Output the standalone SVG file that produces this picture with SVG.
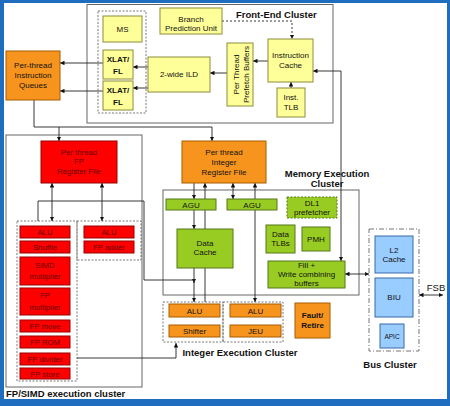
<svg xmlns="http://www.w3.org/2000/svg" width="450" height="406" viewBox="0 0 450 406">
<defs>
<marker id="ah" viewBox="0 0 10 10" refX="10" refY="5" markerWidth="5" markerHeight="5" orient="auto-start-reverse"><path d="M0,0 L10,5 L0,10 z" fill="#111"/></marker>
<style>
text{font-family:"Liberation Sans",Arial,sans-serif;text-anchor:middle;fill:#111}
.yel{fill:#ffff99;stroke:#8c8c3c;stroke-width:1}
.org{fill:#f7941d;stroke:#a65c00;stroke-width:1}
.red{fill:#ff0000;stroke:#990000;stroke-width:1}
.grn{fill:#99cc22;stroke:#55771a;stroke-width:1}
.blu{fill:#99ccff;stroke:#3a6aa8;stroke-width:1}
.clu{fill:none;stroke:#666;stroke-width:1}
.dash{fill:none;stroke:#555;stroke-width:0.8;stroke-dasharray:2,1.5}
.t8{font-size:8px}
.t7{font-size:7.8px;fill:#6a0000}
.tb{font-weight:bold}
.title{font-size:9.5px;font-weight:bold}
.ln{fill:none;stroke:#222;stroke-width:0.9}
.arr{marker-end:url(#ah)}
.bi{marker-start:url(#ah);marker-end:url(#ah)}
</style>
</defs>
<rect x="0" y="0" width="450" height="406" fill="#1f6dbf"/>
<rect x="4" y="3" width="443" height="396" fill="#ffffff"/>

<g id="clusters">
<rect id="frontend-cluster" class="clu" x="87" y="4.5" width="246" height="118.5"/>
<rect id="fp-cluster" class="clu" x="6" y="135" width="136" height="252"/>
<rect id="mem-cluster" class="clu" x="163" y="190" width="196" height="105"/>
<rect class="dash" x="98" y="11" width="48" height="102"/>
<rect class="dash" x="17" y="221" width="60" height="160"/>
<rect class="dash" x="77" y="221" width="64" height="39"/>
<rect class="dash" x="163" y="302" width="60" height="40"/>
<rect class="dash" x="223" y="302" width="60" height="40"/>
<rect fill="none" stroke="#666" stroke-width="0.9" stroke-dasharray="5,2,1,2" x="369" y="229" width="50" height="122"/>
<text class="title" x="236" y="18" style="text-anchor:start">Front-End Cluster</text>
<text class="title" x="327" y="177">Memory Execution</text>
<text class="title" x="327" y="187">Cluster</text>
<text class="title" x="240" y="356">Integer Execution Cluster</text>
<text class="title" x="6" y="397" style="text-anchor:start">FP/SIMD execution cluster</text>
<text class="title" x="390" y="368">Bus Cluster</text>
<text x="436" y="291" style="font-size:9.5px">FSB</text>
</g>

<g id="connectors">
<line class="ln arr" x1="103" y1="63" x2="60" y2="63"/>
<line class="ln arr" x1="103" y1="91" x2="60" y2="91"/>
<line class="ln arr" x1="148" y1="67" x2="133" y2="67"/>
<line class="ln arr" x1="148" y1="88" x2="133" y2="88"/>
<line class="ln arr" x1="227" y1="73" x2="210" y2="73"/>
<line class="ln arr" x1="268" y1="61" x2="253" y2="61"/>
<line class="ln arr" x1="291" y1="88" x2="291" y2="82"/>
<path class="ln arr" d="M222,21 H292 V39" stroke-dasharray="2,2"/>
<path class="ln bi" d="M313,71 H341 V261"/>
<path class="ln arr" d="M34,100 V127 H212 V141"/>
<line class="ln arr" x1="59" y1="127" x2="59" y2="141"/>
<line class="ln bi" x1="52" y1="183" x2="52" y2="221"/>
<line class="ln bi" x1="102" y1="183" x2="102" y2="221"/>
<path class="ln arr" d="M38,221 V201 H144 V280 H194 V283"/>
<line class="ln arr" x1="194" y1="268" x2="194" y2="302"/>
<line class="ln arr" x1="194" y1="183" x2="194" y2="199"/>
<line class="ln arr" x1="194" y1="210" x2="194" y2="229"/>
<line class="ln arr" x1="205" y1="302" x2="205" y2="183"/>
<line class="ln bi" x1="233" y1="183" x2="233" y2="199"/>
<line class="ln bi" x1="255" y1="183" x2="255" y2="302"/>
<line class="ln bi" x1="345" y1="274" x2="369" y2="274"/>
<line class="ln bi" x1="419" y1="295" x2="443" y2="295"/>
<path class="ln arr" d="M77,358 H176 V343"/>
</g>

<g id="ms"><rect class="yel" x="103" y="16" width="39" height="26"/><text class="t8" x="122.5" y="32">MS</text></g>
<g id="xlat1"><rect class="yel" x="103" y="50" width="30" height="29"/><text class="t8 tb" x="118" y="62">XLAT/</text><text class="t8 tb" x="118" y="74">FL</text></g>
<g id="xlat2"><rect class="yel" x="103" y="81" width="30" height="29"/><text class="t8 tb" x="118" y="93">XLAT/</text><text class="t8 tb" x="118" y="105">FL</text></g>
<g id="queues"><rect class="org" x="6" y="51" width="54" height="49"/><text class="t8" x="33" y="68">Per-thread</text><text class="t8" x="33" y="78">Instruction</text><text class="t8" x="33" y="88">Queues</text></g>
<g id="ild"><rect class="yel" x="148" y="57" width="62" height="35"/><text class="t8" x="179" y="77">2-wide ILD</text></g>
<g id="prefetch"><rect class="yel" x="227" y="43" width="26" height="63"/><text class="t8" transform="translate(239,74.5) rotate(-90)">Per Thread</text><text class="t8" transform="translate(249,74.5) rotate(-90)">Prefetch Buffers</text></g>
<g id="icache"><rect class="yel" x="268" y="39" width="45" height="43"/><text class="t8" x="290.5" y="58">Instruction</text><text class="t8" x="290.5" y="68">Cache</text></g>
<g id="itlb"><rect class="yel" x="277" y="88" width="28" height="29"/><text class="t8" x="291" y="100">Inst.</text><text class="t8" x="291" y="110">TLB</text></g>
<g id="bpu"><rect class="yel" x="160" y="8" width="62" height="26"/><text class="t8" x="191" y="22">Branch</text><text class="t8" x="191" y="31">Prediction Unit</text></g>

<g id="fprf"><rect class="red" x="41" y="141" width="76" height="42"/><text class="t7" x="79" y="155">Per thread</text><text class="t7" x="79" y="164">FP</text><text class="t7" x="79" y="174">Register File</text></g>
<g id="fp-alu1"><rect class="red" x="20" y="226" width="50" height="12"/><text class="t7" x="45" y="235">ALU</text></g>
<g id="fp-shuffle"><rect class="red" x="20" y="241" width="50" height="12"/><text class="t7" x="45" y="250">Shuffle</text></g>
<g id="fp-simd"><rect class="red" x="20" y="257" width="50" height="28"/><text class="t7" x="45" y="268">SIMD</text><text class="t7" x="45" y="279">multiplier</text></g>
<g id="fp-mul"><rect class="red" x="20" y="288" width="50" height="27"/><text class="t7" x="45" y="298">FP</text><text class="t7" x="45" y="310">multiplier</text></g>
<g id="fp-move"><rect class="red" x="20" y="320" width="50" height="12"/><text class="t7" x="45" y="329">FP move</text></g>
<g id="fp-rom"><rect class="red" x="20" y="336" width="50" height="12"/><text class="t7" x="45" y="345">FP ROM</text></g>
<g id="fp-div"><rect class="red" x="20" y="353" width="50" height="12"/><text class="t7" x="45" y="362">FP divider</text></g>
<g id="fp-store"><rect class="red" x="20" y="368" width="50" height="11"/><text class="t7" x="45" y="376.5">FP store</text></g>
<g id="fp-alu2"><rect class="red" x="84" y="226" width="50" height="12"/><text class="t7" x="109" y="235">ALU</text></g>
<g id="fp-adder"><rect class="red" x="84" y="241" width="50" height="12"/><text class="t7" x="109" y="250">FP adder</text></g>

<g id="irf"><rect class="org" x="182" y="141" width="84" height="42"/><text class="t8" x="224" y="155">Per thread</text><text class="t8" x="224" y="165">Integer</text><text class="t8" x="224" y="175">Register File</text></g>
<g id="agu1"><rect class="grn" x="166" y="199" width="50" height="11"/><text class="t8" x="191" y="207.5">AGU</text></g>
<g id="agu2"><rect class="grn" x="227" y="199" width="50" height="11"/><text class="t8" x="252" y="207.5">AGU</text></g>
<g id="dl1"><rect class="grn" x="287" y="197" width="50" height="21" stroke-dasharray="2,1.5"/><text class="t8" x="312" y="206">DL1</text><text class="t8" x="312" y="215">prefetcher</text></g>
<g id="dcache"><rect class="grn" x="177" y="229" width="56" height="39"/><text class="t8" x="205" y="246">Data</text><text class="t8" x="205" y="255">Cache</text></g>
<g id="dtlb"><rect class="grn" x="266" y="225" width="29" height="28"/><text class="t8" x="280.5" y="237">Data</text><text class="t8" x="280.5" y="246">TLBs</text></g>
<g id="pmh"><rect class="grn" x="302" y="227" width="28" height="24"/><text class="t8" x="316" y="242">PMH</text></g>
<g id="fill"><rect class="grn" x="268" y="261" width="77" height="27"/><text class="t8" x="306.5" y="268">Fill +</text><text class="t8" x="306.5" y="277">Write combining</text><text class="t8" x="306.5" y="286">buffers</text></g>

<g id="int-alu1"><rect class="org" x="169" y="304" width="51" height="13"/><text class="t8" x="194.5" y="313.5">ALU</text></g>
<g id="int-shifter"><rect class="org" x="169" y="325" width="51" height="12"/><text class="t8" x="194.5" y="334">Shifter</text></g>
<g id="int-alu2"><rect class="org" x="230" y="304" width="51" height="13"/><text class="t8" x="255.5" y="313.5">ALU</text></g>
<g id="int-jeu"><rect class="org" x="230" y="325" width="51" height="12"/><text class="t8" x="255.5" y="334">JEU</text></g>
<g id="fault"><rect class="org" x="295" y="303" width="35" height="35"/><text class="t8 tb" x="312.5" y="318">Fault/</text><text class="t8 tb" x="312.5" y="328">Retire</text></g>

<g id="l2"><rect class="blu" x="375" y="236" width="38" height="37"/><text class="t8" x="394" y="253">L2</text><text class="t8" x="394" y="262">Cache</text></g>
<g id="biu"><rect class="blu" x="375" y="278" width="38" height="39"/><text class="t8" x="394" y="300">BIU</text></g>
<g id="apic"><rect class="blu" x="380" y="324" width="24" height="24"/><text x="392" y="338.5" style="font-size:6.5px">APIC</text></g>
</svg>
